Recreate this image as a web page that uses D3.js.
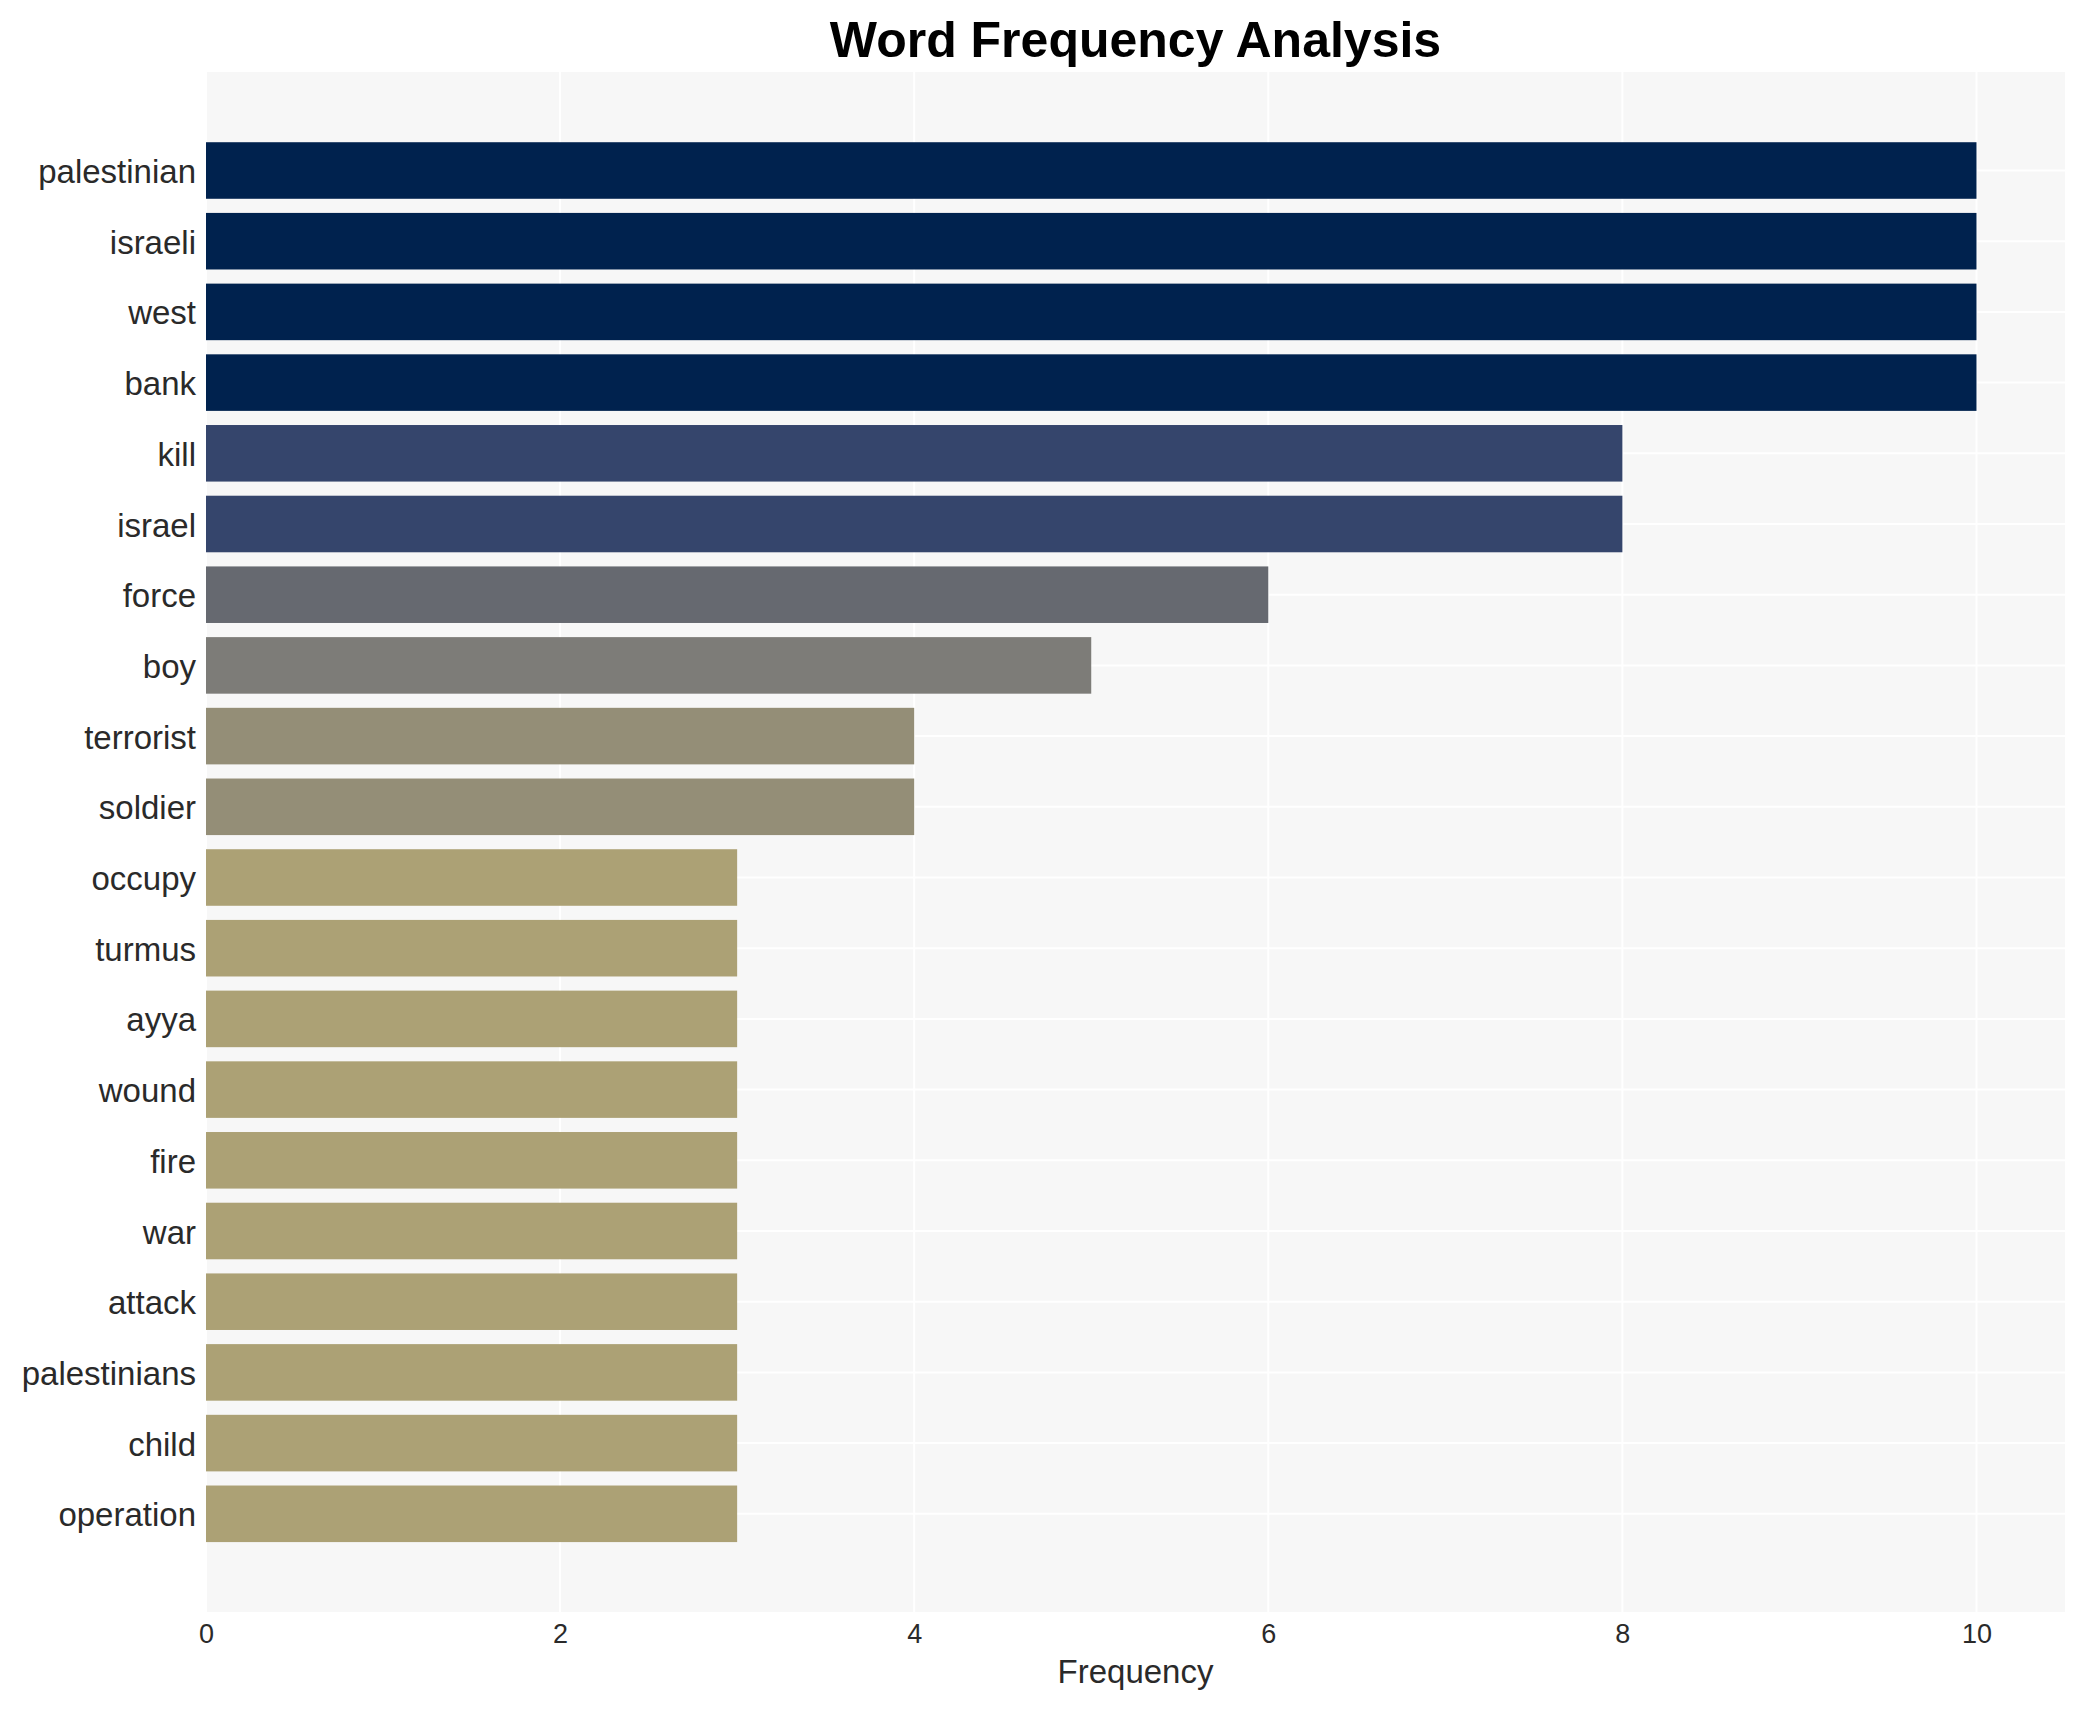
<!DOCTYPE html>
<html>
<head>
<meta charset="utf-8">
<script src="https://cdn.jsdelivr.net/npm/d3@7"></script>
<style>
  body { margin: 0; background: #fff; }
  text { font-family: "Liberation Sans", Arial, sans-serif; }
</style>
</head>
<body>
<svg width="2085" height="1710"></svg>
<script>
// words and how often they show up
let words = ["palestinian", "israeli", "west", "bank", "kill", "israel", "force", "boy",
  "terrorist", "soldier", "occupy", "turmus", "ayya", "wound", "fire", "war", "attack",
  "palestinians", "child", "operation"];
let counts = [10, 10, 10, 10, 8, 8, 6, 5, 4, 4, 3, 3, 3, 3, 3, 3, 3, 3, 3, 3];
let xTicks = [0, 2, 4, 6, 8, 10];

let s = d3.select("svg");

// plot area
let pLeft = 206, pRight = 2065, pTop = 72, pBottom = 1612;

let x = d3.scaleLinear().domain([0, 10.5]).range([pLeft, pRight]);
let y = d3.scaleBand().domain(words).range([135.15, 1549.15])
  .paddingInner(0.2).paddingOuter(0.1);

// cividis as matplotlib samples it, higher counts darker
let cividis = d3.piecewise(d3.interpolateRgb, ["#00224e", "#123570", "#35456c", "#4f576c",
  "#666970", "#7d7c78", "#948e77", "#aca175", "#c5b56d", "#dfcb5d", "#fee838"]);
let color = d3.scaleSequential(cividis).domain([10, 0]);

// panel background
s.append("rect")
  .attr("x", pLeft).attr("y", pTop)
  .attr("width", pRight - pLeft).attr("height", pBottom - pTop)
  .attr("fill", "#f7f7f7");

// grid lines (white)
s.append("g").selectAll("line").data(xTicks).join("line")
  .attr("x1", d => x(d)).attr("x2", d => x(d))
  .attr("y1", pTop).attr("y2", pBottom)
  .attr("stroke", "#fff").attr("stroke-width", 2);

s.append("g").selectAll("line").data(words).join("line")
  .attr("x1", pLeft).attr("x2", pRight)
  .attr("y1", d => y(d) + y.bandwidth() / 2).attr("y2", d => y(d) + y.bandwidth() / 2)
  .attr("stroke", "#fff").attr("stroke-width", 2);

// bars
s.append("g").selectAll("rect").data(words).join("rect")
  .attr("x", x(0))
  .attr("y", d => y(d))
  .attr("width", (d, i) => x(counts[i]) - x(0))
  .attr("height", y.bandwidth())
  .attr("fill", (d, i) => color(counts[i]));

// y labels
let yAxis = d3.axisLeft(y).tickSize(0).tickPadding(10);
let gy = s.append("g").attr("transform", "translate(" + pLeft + ",2)").call(yAxis);
gy.select(".domain").remove();
gy.selectAll("text")
  .attr("font-size", 33)
  .attr("font-family", "Liberation Sans, Arial, sans-serif")
  .attr("fill", "#2a2a2a");

// x ticks
let xAxis = d3.axisBottom(x).tickValues(xTicks).tickSize(0).tickPadding(12).tickFormat(d3.format("d"));
let gx = s.append("g").attr("transform", "translate(0," + pBottom + ")").call(xAxis);
gx.select(".domain").remove();
gx.selectAll("text")
  .attr("font-size", 27)
  .attr("font-family", "Liberation Sans, Arial, sans-serif")
  .attr("fill", "#2a2a2a");

// axis title
s.append("text")
  .attr("x", (pLeft + pRight) / 2)
  .attr("y", 1683)
  .attr("text-anchor", "middle")
  .attr("font-size", 33)
  .attr("fill", "#2a2a2a")
  .text("Frequency");

// chart title
s.append("text")
  .attr("x", (pLeft + pRight) / 2)
  .attr("y", 57)
  .attr("text-anchor", "middle")
  .attr("font-size", 50)
  .attr("font-weight", "bold")
  .attr("fill", "#000")
  .text("Word Frequency Analysis");
</script>
</body>
</html>
